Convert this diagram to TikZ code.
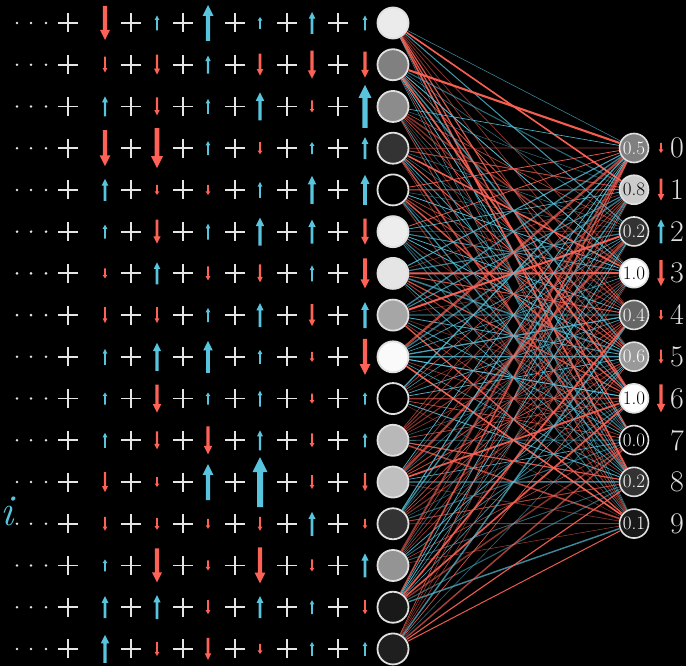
\documentclass[tikz,border=0pt]{standalone}
\usepackage{fontspec}
\usetikzlibrary{calc}
\definecolor{bl}{HTML}{58C4DD}
\definecolor{rd}{HTML}{FC6255}
\definecolor{ring}{HTML}{E0E0E0}
\tikzset{
  lcirc/.style={circle, draw=ring, line width=1.8pt, minimum size=31pt, inner sep=0pt},
  rcirc/.style={circle, draw=ring, line width=1.6pt, minimum size=29pt, inner sep=0pt},
  plussign/.style={draw=white!90!black, line width=1.8pt},
  digit/.style={text=white!88!black, font=\fontsize{30}{30}\selectfont, inner sep=0pt},
}
\newcommand\varw[3]{%
  \pgfmathsetmacro\aL{abs(#3)}%
  \pgfmathsetmacro\asw{max(0.8,0.06*\aL)}%
  \pgfmathsetmacro\ahw{max(2.4,0.15*\aL)}%
  \pgfmathsetmacro\ahl{max(3.5,0.3*\aL)}%
  \pgfmathsetmacro\ad{(#3>0)?-1:1}%
  \pgfmathsetmacro\atip{#2+\ad*\aL/2}%
  \pgfmathsetmacro\atail{#2-\ad*\aL/2}%
  \pgfmathsetmacro\aneck{\atip-\ad*\ahl}%
  \ifdim #3pt>0pt\def\acol{bl}\else\def\acol{rd}\fi
  \fill[\acol] ({#1-\asw},\atail) -- ({#1-\asw},\aneck) -- ({#1-\ahw},\aneck) -- (#1,\atip) -- ({#1+\ahw},\aneck) -- ({#1+\asw},\aneck) -- ({#1+\asw},\atail) -- cycle;
}
\begin{document}
\begin{tikzpicture}[x=1pt,y=-1pt]
\fill[black] (0,0) rectangle (686,666);
\useasboundingbox (0,0) rectangle (686,666);
% left rows
\foreach \r/\g/\ua/\ub/\uc/\ud/\ue/\uf in {
 1/92/-34/15/36/12/22/15,
 2/50/-16/-20/18/-22/-28/-26,
 3/55/20/-18/15/28/-12/43,
 4/20/-36/-40/14/-12/12/22,
 5/0/22/-10/-10/16/28/30,
 6/93/14/-24/16/28/24/-26,
 7/90/-10/22/-14/-18/16/-30,
 8/65/-16/-16/14/24/-22/26,
 9/98/16/28/32/14/-10/-36,
 10/0/12/-28/12/16/-10/12,
 11/72/15/-18/-28/20/-14/14,
 12/75/-20/-10/36/50/-14/-18,
 13/20/-14/-12/-10/-14/24/-10,
 14/58/12/-34/-10/-36/-12/24,
 15/10/22/24/-14/22/14/-14,
 16/12/28/-14/-22/-10/14/14}{
  \pgfmathsetmacro\yy{23+(\r-1)*41.73}
  \foreach \dx in {17,31,46} \fill[white!90!black] (\dx,\yy) circle (1.4);
  \foreach \px in {68,131,183,235,287,338}
    \draw[plussign] ({\px-10},\yy) -- ({\px+10},\yy) (\px,{\yy-9.5}) -- (\px,{\yy+9.5});
  \varw{105}{\yy}{\ua}
  \varw{157}{\yy}{\ub}
  \varw{208}{\yy}{\uc}
  \varw{260}{\yy}{\ud}
  \varw{312}{\yy}{\ue}
  \varw{365}{\yy}{\uf}
  \node[lcirc, fill=white!\g!black] (L\r) at (393,\yy) {};
}
% index label
\node[text=bl, font=\fontsize{44}{44}\selectfont\itshape, anchor=east, inner sep=0pt] (ilab) at (13.5,511) {i};
% right layer
\foreach \j/\v/\t in {0/50/0.5, 1/80/0.8, 2/20/0.2, 3/100/1.0, 4/40/0.4, 5/60/0.6, 6/100/1.0, 7/0/0.0, 8/20/0.2, 9/10/0.1}{
  \pgfmathsetmacro\yy{148+\j*41.73}
  \ifnum\v>69 \def\tc{black}\else\def\tc{white}\fi
  \node[rcirc, fill=white!\v!black, text=\tc] (R\j) at (634,\yy) {\fontsize{19}{19}\selectfont\t};
  \node[digit] (D\j) at (677,\yy) {\j};
}
\foreach \j/\s in {0/-10, 1/-22, 2/24, 3/-26, 4/-10, 5/-14, 6/-28}{
  \pgfmathsetmacro\yy{148+\j*41.73}
  \varw{661}{\yy}{\s}
}
% connections
\pgfmathsetseed{7}
\foreach \i in {1,...,16}{
  \foreach \j in {0,...,9}{
    \pgfmathsetmacro\rc{rnd}
    \pgfmathsetmacro\rw{0.5+2.0*rnd*rnd}
    \pgfmathsetmacro\ro{0.45+0.55*rnd}
    \ifdim\rc pt<0.5pt\def\lc{rd}\else\def\lc{bl}\fi
    \draw[\lc, line width=\rw pt, draw opacity=\ro] (L\i) -- (R\j);
  }
}
\end{tikzpicture}
\end{document}
